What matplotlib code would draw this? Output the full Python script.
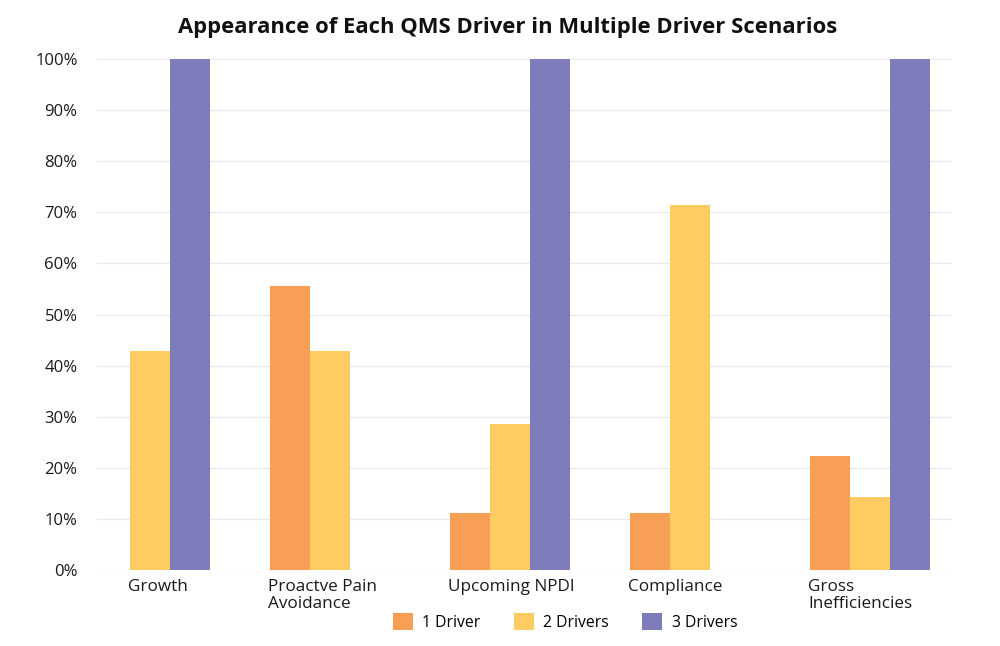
import matplotlib
matplotlib.use("Agg")
import matplotlib.pyplot as plt
from matplotlib.patches import Patch

categories = ["Growth", "Proactve Pain\nAvoidance", "Upcoming NPDI", "Compliance", "Gross\nInefficiencies"]
series_names = ["1 Driver", "2 Drivers", "3 Drivers"]
one_driver = [0, 55.56, 11.11, 11.11, 22.22]
two_drivers = [42.86, 42.86, 28.57, 71.43, 14.29]
three_drivers = [100, 0, 100, 0, 100]
yticks = [0, 10, 20, 30, 40, 50, 60, 70, 80, 90, 100]

colors = ["#F7A055", "#FECC61", "#7E7CBB"]
plt.rcParams['font.family'] = ['Open Sans', 'DejaVu Sans']

fig = plt.figure(figsize=(10, 6.46), dpi=100)
ax = fig.add_axes([0.097, 0.1176, 0.855, 0.7911])

# pixel-like x coordinates for the axis
ax.set_xlim(97, 952)
ax.set_ylim(0, 100)
bw = 40
centers = [150 + 180 * i for i in range(len(categories))]
series = [one_driver, two_drivers, three_drivers]
for k, vals in enumerate(series):
    xs = [c + (k - 1) * bw for c in centers]
    ax.bar(xs, vals, width=bw, color=colors[k], zorder=3, linewidth=0)

ax.set_yticks(yticks)
ax.set_yticklabels([f"{t}%" for t in yticks], fontsize=12, color="#1a1a1a")
ax.tick_params(axis="y", length=0, pad=14)
ax.set_xticks([])
ax.yaxis.grid(True, color="#EBEBEB", linewidth=1, zorder=0)
for s in ax.spines.values():
    s.set_visible(False)

# category labels left-aligned at leftmost non-zero bar
for i, c in enumerate(centers):
    left = c - 1.5 * bw
    if one_driver[i] == 0:
        left = c - 0.5 * bw
    ax.text(left - 2, -1.7, categories[i], ha="left", va="top", fontsize=12.3,
            color="#1a1a1a", linespacing=1.07, transform=ax.transData, clip_on=False)

fig.text(0.508, 0.957, "Appearance of Each QMS Driver in Multiple Driver Scenarios",
         ha="center", va="center", fontsize=15.8, fontweight="bold", color="#111111")

handles = [Patch(facecolor=colors[k], edgecolor="none") for k in range(3)]
fig.legend(handles, series_names, loc="center", bbox_to_anchor=(0.565, 0.037), ncol=3,
           frameon=False, fontsize=11.3, handlelength=1.3, handleheight=1.3,
           handletextpad=0.6, columnspacing=2.1)

fig.savefig("out.png", dpi=100, facecolor="white")
